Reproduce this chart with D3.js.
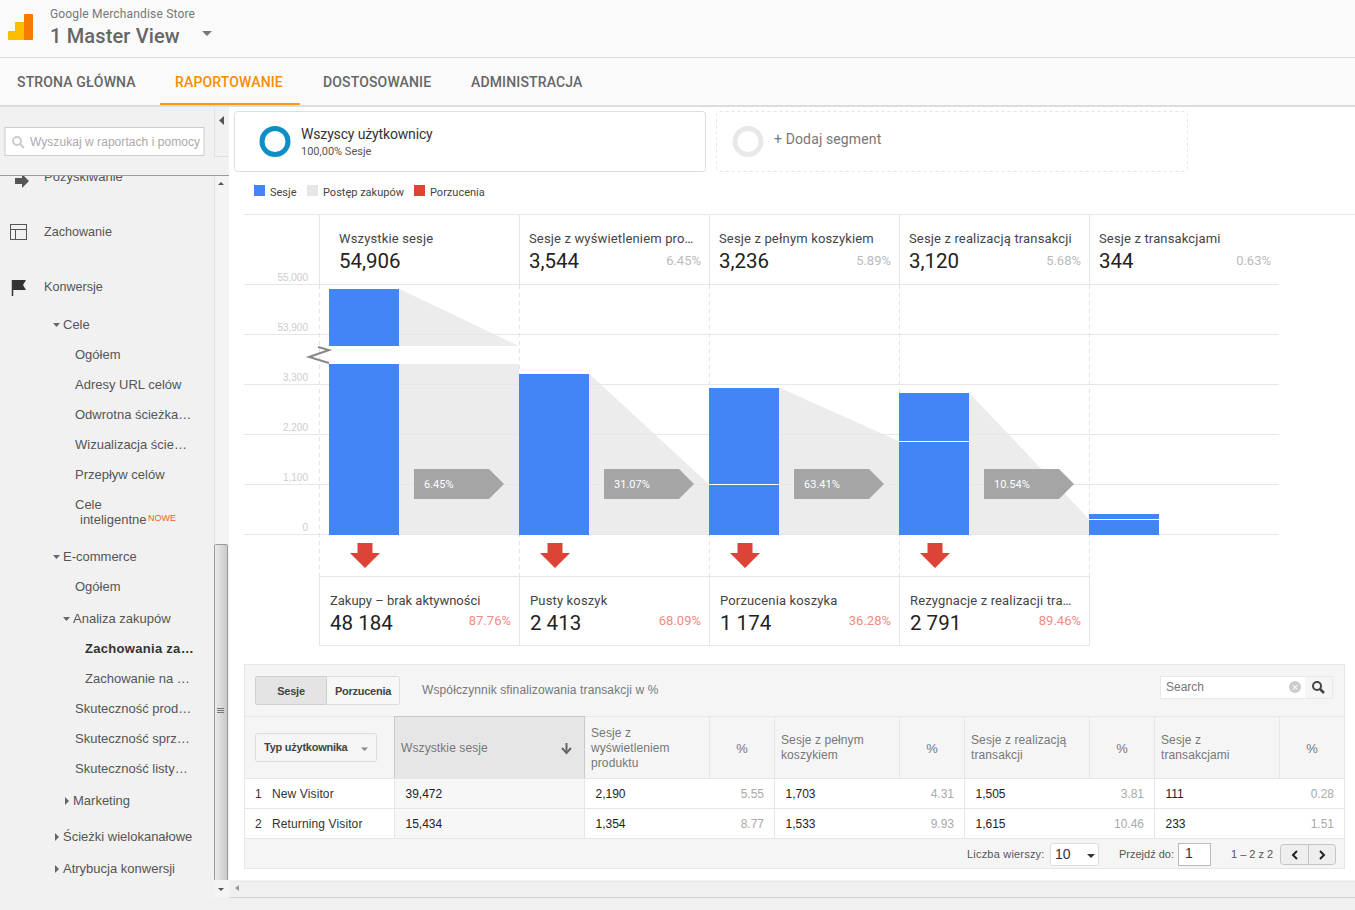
<!DOCTYPE html>
<html>
<head>
<meta charset="utf-8">
<title>Zachowania zakupowe</title>
<script src="https://d3js.org/d3.v7.min.js"></script>
<style>
    html, body { margin: 0; padding: 0; background: #fff; overflow: hidden; }
    svg { display: block; }
</style>
</head>
<body>
<svg id="page" width="1355" height="910"></svg>
<script>
// funnel data
var steps = ["Wszystkie sesje", "Sesje z wyświetleniem pro…", "Sesje z pełnym koszykiem", "Sesje z realizacją transakcji", "Sesje z transakcjami"];
var stepLabels = ["54,906", "3,544", "3,236", "3,120", "344"];
var stepShares = ["", "6.45%", "5.89%", "5.68%", "0.63%"];
var barValues = [54906, 3544, 3236, 3120, 455];
var retainedValues = [3544, 3544, 1100, 2050, 340];
var conversionRates = ["6.45%", "31.07%", "63.41%", "10.54%"];
var dropNames = ["Zakupy – brak aktywności", "Pusty koszyk", "Porzucenia koszyka", "Rezygnacje z realizacji tra…"];
var dropLabels = ["48 184", "2 413", "1 174", "2 791"];
var dropRates = ["87.76%", "68.09%", "36.28%", "89.46%"];
var yTicks = [0, 1100, 2200, 3300, 53900, 55000];
var breakLow = 3751, breakHigh = 53647;

// table data
var tableHeads = [["Wszystkie sesje"], ["Sesje z", "wyświetleniem", "produktu"], ["%"], ["Sesje z pełnym", "koszykiem"], ["%"], ["Sesje z realizacją", "transakcji"], ["%"], ["Sesje z", "transakcjami"], ["%"]];
var visitorTypes = ["New Visitor", "Returning Visitor"];
var rowValues = [
    ["39,472", "2,190", "5.55", "1,703", "4.31", "1,505", "3.81", "111", "0.28"],
    ["15,434", "1,354", "8.77", "1,533", "9.93", "1,615", "10.46", "233", "1.51"]
];

var navLabels = ["STRONA GŁÓWNA", "RAPORTOWANIE", "DOSTOSOWANIE", "ADMINISTRACJA"];
var legendLabels = ["Sesje", "Postęp zakupów", "Porzucenia"];
var sideLabels = ["Ogółem", "Adresy URL celów", "Odwrotna ścieżka…", "Wizualizacja ście…", "Przepływ celów"];
var sideLabels2 = ["Skuteczność prod…", "Skuteczność sprz…", "Skuteczność listy…"];

var ROBOTO = "Roboto, sans-serif", ARIAL = "'Liberation Sans', Arial, sans-serif";
var BLUE = "#4285f4", RED = "#dd4438", GRID = "#e6e6e6";

var svg = d3.select("#page");

var thumbFill = svg.append("defs").append("linearGradient").attr("id", "thumb");
thumbFill.append("stop").attr("offset", "0").attr("stop-color", "#ececec");
thumbFill.append("stop").attr("offset", "1").attr("stop-color", "#c8c8c8");

function rect(x, y, w, h, fill, stroke, rx) {
    return svg.append("rect").attr("x", x).attr("y", y).attr("width", w).attr("height", h)
        .attr("fill", fill || "none").attr("stroke", stroke || "none").attr("rx", rx || 0);
}
function line(x1, y1, x2, y2, color, dash) {
    return svg.append("line").attr("x1", x1).attr("y1", y1).attr("x2", x2).attr("y2", y2)
        .attr("stroke", color || GRID).attr("stroke-dasharray", dash || null);
}
function text(x, y, s, size, color, font, anchor, weight) {
    return svg.append("text").attr("x", x).attr("y", y).text(s)
        .attr("font-size", size).attr("fill", color || "#555")
        .attr("font-family", font || ARIAL)
        .attr("text-anchor", anchor || "start")
        .attr("font-weight", weight || 400);
}
function poly(points, fill) {
    return svg.append("path").attr("d", "M" + points.join("L") + "Z").attr("fill", fill);
}
function side(x, y, s, color, weight) {
    return text(x, y, s, 13, color || "#555", ARIAL, "start", weight);
}

// top bars
rect(0, 0, 1355, 57, "#fafafa");
line(0, 57.5, 1355, 57.5, "#dedede");
rect(0, 58, 1355, 47, "#fafafa");
rect(0, 105, 1355, 2, "#dddddd");
rect(8, 31, 10, 9, "#fdbd00", null, 1);
rect(15, 22, 10, 18, "#fdbd00", null, 1);
rect(24, 14, 9, 26, "#f57c00", null, 1);
text(50, 18, "Google Merchandise Store", 12, "#777", ROBOTO).attr("letter-spacing", "0.17px");
text(50, 43, "1 Master View", 20, "#666", ROBOTO, "start", 500).attr("letter-spacing", "0.15px");
poly([[202, 31], [212, 31], [207, 36]], "#777");
var navX = [17, 175, 323, 471];
navLabels.forEach(function(d, i) {
    text(navX[i], 87, d, 14, i == 1 ? "#fb8c00" : "#666", ROBOTO, "start", 500).attr("letter-spacing", "0.15px");
});
rect(160, 103, 140, 2, "#fb9a10");

// sidebar
rect(0, 107, 229, 773, "#f1f1f1");
rect(214, 176, 15, 721, "#f4f4f4");
line(214.5, 176, 214.5, 897, "#e4e4e4");
rect(214.5, 544.5, 13, 336, "url(#thumb)", "#999", 1);
line(217, 708.5, 224, 708.5, "#777");
line(217, 710.5, 224, 710.5, "#777");
line(217, 712.5, 224, 712.5, "#777");
poly([[218, 185], [224, 185], [221, 182]], "#555");

side(44, 181, "Pozyskiwanie");
poly([[15, 178], [22, 178], [22, 174], [29, 181], [22, 188], [22, 184], [15, 184]], "#555");
rect(0, 107, 229, 69, "#f1f1f1");
line(0, 175.5, 229, 175.5, "#999");
rect(5, 127.5, 199, 28, "#fff", "#ccc");
text(30, 146, "Wyszukaj w raportach i pomocy", 12, "#aaa").attr("letter-spacing", "0.05px");
svg.append("circle").attr("cx", 17).attr("cy", 141).attr("r", 4).attr("fill", "none").attr("stroke", "#ccc").attr("stroke-width", 2);
line(20, 144, 24, 148, "#ccc").attr("stroke-width", 2);
rect(214, 108, 15, 49, "#f1f1f1");
line(214.5, 108, 214.5, 156, "#e0e0e0");
line(214, 156.5, 229, 156.5, "#e0e0e0");
poly([[224, 116], [224, 125], [219, 120.5]], "#555");

// sidebar icons
rect(10.5, 224.5, 16, 15, "none", "#555");
line(10.5, 229.5, 26.5, 229.5, "#555");
line(15.5, 229.5, 15.5, 239.5, "#555");
line(12.5, 280, 12.5, 296, "#333").attr("stroke-width", 1.5);
poly([[13, 280], [26, 280], [23, 285], [26, 290], [13, 290]], "#333");

side(44, 236, "Zachowanie").attr("font-size", 12.6);
side(44, 291, "Konwersje").attr("font-size", 12.6);
function openTri(x, y) { poly([[x, y], [x + 7, y], [x + 3.5, y + 4]], "#666"); }
function closedTri(x, y) { poly([[x, y], [x + 4, y + 4], [x, y + 8]], "#666"); }
openTri(53, 323);
side(63, 329, "Cele");
sideLabels.forEach(function(d, i) { side(75, 359 + i * 30, d); });
side(75, 509, "Cele");
side(80, 524, "inteligentne");
text(148, 521, "NOWE", 9, "#f26522");
openTri(53, 555);
side(63, 561, "E-commerce");
side(75, 591, "Ogółem");
openTri(63, 617);
side(73, 623, "Analiza zakupów");
side(85, 653, "Zachowania za…", "#333", 700).attr("letter-spacing", "0.3px");
side(85, 683, "Zachowanie na …");
sideLabels2.forEach(function(d, i) { side(75, 713 + i * 30, d); });
closedTri(65, 797);
side(73, 805, "Marketing");
closedTri(55, 833);
side(63, 841, "Ścieżki wielokanałowe");
closedTri(55, 865);
side(63, 873, "Atrybucja konwersji");

// segments
rect(234.5, 111.5, 471, 60, "#fff", "#dddddd", 3);
svg.append("circle").attr("cx", 275).attr("cy", 141.5).attr("r", 13).attr("fill", "none").attr("stroke", "#0b8fc4").attr("stroke-width", 5);
text(301, 139, "Wszyscy użytkownicy", 14, "#333", ROBOTO).attr("letter-spacing", "-0.15px");
text(301, 155, "100,00% Sesje", 11, "#555", ROBOTO);
rect(716.5, 111.5, 471, 60, "#fff", "#e6e6e6", 3).attr("stroke-dasharray", "3,3");
svg.append("circle").attr("cx", 748).attr("cy", 141.5).attr("r", 13).attr("fill", "none").attr("stroke", "#e8e8e8").attr("stroke-width", 5);
text(774, 144, "+ Dodaj segment", 14, "#777", ROBOTO).attr("letter-spacing", "0.13px");

// legend
var legendX = [254, 307, 414], legendColors = [BLUE, "#e6e6e6", RED];
legendLabels.forEach(function(d, i) {
    rect(legendX[i], 185, 11, 11, legendColors[i]);
    text(legendX[i] + 16, 196, d, 11, "#444", ROBOTO);
});

// funnel scales
var x = d3.scalePoint().domain(d3.range(steps.length)).range([329, 1089]);
var y = d3.scaleLinear()
    .domain([0, 3300, breakLow, breakHigh, 53900, 55000])
    .range([534.5, 384.5, 364, 346, 334.5, 284.5]);
var barW = 70;
function columnX(i) { return i == 0 ? 319.5 : x(i) + 0.5; }

// header row
line(244, 214.5, 1355, 214.5, GRID);
steps.forEach(function(d, i) {
    line(columnX(i), 215, columnX(i), 285, GRID);
    text(x(i) + 10, 243, d, 13, "#444", ROBOTO).attr("letter-spacing", "0.15px");
    text(x(i) + 10, 268, stepLabels[i], 20.5, "#222", ROBOTO);
    text(x(i) + 182, 265, stepShares[i], 13, "#bbb", ROBOTO, "end");
});

// grey flow between the bars
poly([[x(0) + barW, y(barValues[0])], [x(1), y(breakHigh)], [x(0) + barW, y(breakHigh)]], "#ececec");
poly([[x(0) + barW, y(breakLow)], [x(1), y(breakLow)], [x(1), y(0)], [x(0) + barW, y(0)]], "#ececec");
d3.range(1, 4).forEach(function(i) {
    poly([[x(i) + barW, y(barValues[i])], [x(i + 1), y(retainedValues[i + 1])], [x(i + 1), y(0)], [x(i) + barW, y(0)]], "#ececec");
});

// axis with gridlines
var yAxis = d3.axisRight(y).tickValues(yTicks).tickSize(1035).offset(0).tickFormat(d3.format(","));
var axisG = svg.append("g").attr("transform", "translate(244,0)").call(yAxis);
axisG.select(".domain").remove();
axisG.selectAll("line").attr("stroke", GRID);
axisG.selectAll("text").attr("x", 64).attr("dy", "-0.33em").attr("text-anchor", "end")
    .attr("fill", "#ccc").attr("font-size", 10).attr("font-family", ARIAL);

// dashed dividers
steps.forEach(function(d, i) {
    line(columnX(i), 285, columnX(i), 577, "#e2e2e2", "4,4");
});

// bars
svg.selectAll(".bar").data(barValues).enter().append("rect")
    .attr("class", "bar")
    .attr("x", function(d, i) { return x(i); })
    .attr("y", function(d) { return Math.ceil(y(d)); })
    .attr("width", barW)
    .attr("height", function(d) { return 535 - Math.ceil(y(d)); })
    .attr("fill", BLUE);
// axis break
rect(x(0), y(breakHigh), 190, y(breakLow) - y(breakHigh), "#fff");
svg.append("path").attr("d", "M318,347 L329,350 L309,357 L329,363").attr("fill", "none").attr("stroke", "#888").attr("stroke-width", 2);
// retained lines on the bars
d3.range(2, 5).forEach(function(i) {
    var ly = Math.floor(y(retainedValues[i])) + 0.5;
    line(x(i), ly, x(i) + barW, ly, "#fff");
});

// conversion tags
conversionRates.forEach(function(d, i) {
    var l = x(i) + 85;
    poly([[l, 469], [l + 75, 469], [l + 90, 484], [l + 75, 499], [l, 499]], "#a5a5a5");
    text(l + 10, 488, d, 11, "#fff", ROBOTO);
});

// drop arrows and drop cells
line(319, 576.5, 1090, 576.5, GRID);
line(319, 645.5, 1090, 645.5, GRID);
line(1089.5, 576, 1089.5, 646, GRID);
dropNames.forEach(function(d, i) {
    var c = x(i) + 36;
    poly([[c - 7.5, 543], [c + 7.5, 543], [c + 7.5, 553], [c + 15, 553], [c, 568], [c - 15, 553], [c - 7.5, 553]], RED);
    line(columnX(i), 577, columnX(i), 646, GRID);
    var tx = i == 0 ? 330 : x(i) + 11;
    text(tx, 605, d, 13, "#444", ROBOTO).attr("letter-spacing", i == 0 ? "0" : "0.15px");
    text(tx, 630, dropLabels[i], 20.5, "#222", ROBOTO);
    text(i == 0 ? 511 : x(i) + 182, 625, dropRates[i], 13, "#f28b82", ROBOTO, "end");
});

// table panel
var cols = [244.5, 394.5, 584.5, 709.5, 774.5, 899.5, 964.5, 1089.5, 1154.5, 1279.5, 1344.5];
rect(244.5, 664.5, 1100, 204, "#f5f5f5", GRID);
rect(255.5, 676.5, 144, 28, "#f7f7f7", "#dcdcdc", 2);
rect(255.5, 676.5, 71, 28, "#e4e4e4", "#cfcfcf", 2);
text(291, 695, "Sesje", 11, "#444", ARIAL, "middle", 700).attr("letter-spacing", "-0.2px");
text(363, 695, "Porzucenia", 11, "#444", ARIAL, "middle", 700).attr("letter-spacing", "-0.25px");
text(422, 694, "Współczynnik sfinalizowania transakcji w %", 12, "#777").attr("letter-spacing", "0.12px");
rect(1160.5, 676.5, 172, 22, "#fff", "#e8e8e8");
text(1166, 691, "Search", 12, "#777");
svg.append("circle").attr("cx", 1295).attr("cy", 687).attr("r", 6).attr("fill", "#ccc");
text(1295, 690.5, "×", 11, "#fff", ARIAL, "middle");
rect(1305, 677, 27, 21, "#f5f5f5");
svg.append("circle").attr("cx", 1317).attr("cy", 686).attr("r", 4).attr("fill", "none").attr("stroke", "#444").attr("stroke-width", 2);
line(1320, 689, 1324, 693, "#444").attr("stroke-width", 2.5);

line(244, 716.5, 1345, 716.5, GRID);
rect(394.5, 716.5, 190, 62, "#e6e6e6", "#c9c9c9");
rect(255.5, 733.5, 121, 28, "#f5f5f5", "#dcdcdc", 2);
text(264, 751, "Typ użytkownika", 11, "#444", ARIAL, "start", 700).attr("letter-spacing", "-0.25px");
poly([[361, 747.5], [368, 747.5], [364.5, 751]], "#888");

tableHeads.forEach(function(lines, i) {
    var left = cols[i + 1], right = cols[i + 2], isPct = lines[0] == "%";
    if (i > 0) line(right, 717, right, 778, GRID);
    lines.forEach(function(s, k) {
        var ty = 752 + (k - (lines.length - 1) / 2) * 15;
        if (lines.length == 2) ty -= 1;
        if (isPct) text((left + right) / 2, ty + 1, s, 13, "#777", ARIAL, "middle");
        else text(left + 6.5, ty, s, 12, "#777").attr("letter-spacing", "0.1px");
    });
});
line(566.5, 743, 566.5, 752, "#666").attr("stroke-width", 2);
svg.append("path").attr("d", "M562,748 L566.5,753 L571,748").attr("fill", "none").attr("stroke", "#666").attr("stroke-width", 2);

// table rows
rowValues.forEach(function(row, r) {
    var top = 778.5 + r * 30;
    rect(244.5, top, 1100, 30, "#fff", GRID);
    rect(394.5, top, 190, 30, "#f7f7f7", GRID);
    text(255, top + 19.5, String(r + 1), 12, "#333");
    text(272, top + 19.5, visitorTypes[r], 12, "#333").attr("letter-spacing", "0.12px");
    row.forEach(function(v, c) {
        var left = cols[c + 1], right = cols[c + 2];
        if (c % 2 == 1 || c == 0) {
            text(left + 11, top + 19.5, v, 12, "#222");
        } else {
            text(right - 10.5, top + 19.5, v, 12, "#aaa", ARIAL, "end");
            line(right, top, right, top + 30, GRID);
        }
    });
    line(584.5, top, 584.5, top + 30, GRID);
});

// pager
text(967, 858, "Liczba wierszy:", 11, "#555").attr("letter-spacing", "0.2px");
rect(1050.5, 843.5, 48, 22, "#fff", "#dcdcdc", 2);
text(1055, 859, "10", 14, "#333");
poly([[1087, 854], [1095, 854], [1091, 858]], "#333");
text(1119, 858, "Przejdź do:", 11, "#555");
rect(1178.5, 843.5, 32, 22, "#fff", "#bbb");
text(1185, 858, "1", 14, "#333");
text(1231, 858, "1 – 2 z 2", 11, "#555");
rect(1280.5, 844.5, 55, 20, "#eeeeee", "#c4c4c4", 3);
line(1308.5, 845, 1308.5, 864, "#c4c4c4");
svg.append("path").attr("d", "M1297,851 L1293,855 L1297,859").attr("fill", "none").attr("stroke", "#222").attr("stroke-width", 2);
svg.append("path").attr("d", "M1320,851 L1324,855 L1320,859").attr("fill", "none").attr("stroke", "#222").attr("stroke-width", 2);

// bottom scrollbar
rect(229, 881, 1126, 16, "#f0f0f0");
line(229, 881, 1355, 881, "#e4e4e4");
line(229, 897.5, 1355, 897.5, "#d4d4d4");
rect(0, 898, 1355, 12, "#f0f0f0");
rect(0, 880, 229, 18, "#f1f1f1");
rect(214, 880, 15, 17, "#f4f4f4");
poly([[218, 888], [224, 888], [221, 891]], "#555");
poly([[239, 885], [239, 891], [235, 888]], "#999");
</script>
</body>
</html>
